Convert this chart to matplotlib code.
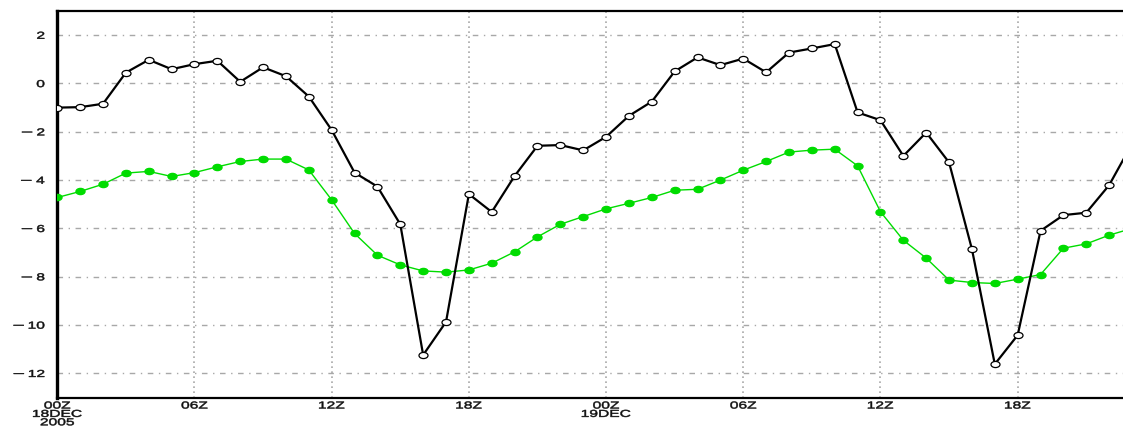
import numpy as np
import matplotlib as mpl
mpl.use("Agg")
import matplotlib.pyplot as plt
from matplotlib.path import Path
from matplotlib.markers import MarkerStyle
from matplotlib.transforms import Affine2D
from matplotlib.textpath import TextPath
from matplotlib.patches import PathPatch
from matplotlib.font_manager import FontProperties

# hourly values, 00Z 18DEC 2005 onwards
hours = list(range(48))

temp_black = [-1.0, -0.98, -0.84, 0.45, 0.98, 0.59, 0.80, 0.94, 0.07, 0.67,
              0.30, -0.54, -1.93, -3.69, -4.27, -5.83, -11.24, -9.87, -4.58, -5.32,
              -3.83, -2.58, -2.55, -2.77, -2.21, -1.34, -0.75, 0.50, 1.08, 0.76,
              1.03, 0.46, 1.28, 1.45, 1.63, -1.20, -1.52, -3.00, -2.03, -3.27,
              -6.86, -11.62, -10.42, -6.10, -5.45, -5.35, -4.21, -2.50]

temp_green = [-4.72, -4.47, -4.17, -3.71, -3.64, -3.85, -3.69, -3.45, -3.23, -3.13,
              -3.13, -3.58, -4.82, -6.21, -7.11, -7.51, -7.76, -7.81, -7.72, -7.44,
              -6.97, -6.35, -5.83, -5.51, -5.19, -4.96, -4.72, -4.42, -4.38, -4.00,
              -3.59, -3.23, -2.84, -2.76, -2.72, -3.41, -5.31, -6.49, -7.23, -8.14,
              -8.24, -8.28, -8.10, -7.91, -6.82, -6.64, -6.28, -6.00]

xtick_pos = [0, 6, 12, 18, 24, 30, 36, 42]
xtick_lbl = ["00Z\n18DEC\n2005", "06Z", "12Z", "18Z", "00Z\n19DEC", "06Z", "12Z", "18Z"]
ytick_pos = [2, 0, -2, -4, -6, -8, -10, -12]
ytick_lbl = ["2", "0", "\u22122", "\u22124", "\u22126", "\u22128", "\u221210", "\u221212"]

# flattened circle marker
ell = Affine2D().scale(1.0, 0.68).transform_path(Path.unit_circle())
ell_marker = MarkerStyle(ell)

# wide plotter-style lettering
fp = FontProperties(family="Liberation Sans")
CAP = 7.2
SIZE = CAP / 0.716
SX = 1.55

fig = plt.figure(figsize=(11.23, 4.27), dpi=100)
ax = fig.add_axes([57.3 / 1123, (427 - 398.5) / 427,
                   (1132 - 57.3) / 1123, (398.5 - 12) / 427])

ax.set_xlim(0, 47)
ax.set_ylim(-13, 3)


def put_label(s, x, y, ha, va, sx=SX):
    # x, y in pixels; text drawn as a path stretched horizontally
    tp = TextPath((0, 0), s, size=SIZE, prop=fp)
    bb = tp.get_extents()
    if ha == "center":
        dx = -(bb.x0 + bb.x1) / 2 * sx
    else:
        dx = -bb.x1 * sx
    dy = -CAP if va == "top" else -CAP / 2
    tr = Affine2D().scale(sx, 1).translate(x + dx, y + dy)
    # no snapping, or the thin minus bar collapses to nothing
    fig.add_artist(PathPatch(tp, transform=tr, fc="#111111", ec="#111111",
                             lw=0.35, snap=False))
    return x + dx + bb.x0 * sx


# grid
for y in ytick_pos:
    ax.axhline(y, color="#a8a8a8", lw=1.0, ls=(0, (4, 4, 1, 4)), zorder=1)
for x in xtick_pos[1:]:
    ax.axvline(x, color="#a8a8a8", lw=1.2, ls=(0, (1, 2)), zorder=1)

ax.plot(hours, temp_green, color="#00dc00", lw=1.0, marker=ell_marker,
        ms=6.5, mfc="#00dc00", mec="#00dc00", zorder=3)
ax.plot(hours, temp_black, color="black", lw=1.6, marker=ell_marker,
        ms=6.5, mfc="white", mec="black", mew=0.9, zorder=4)

ax.set_xticks(xtick_pos)
ax.set_xticklabels([])
ax.set_yticks(ytick_pos)
ax.set_yticklabels([])
ax.tick_params(axis="both", length=0)

for xt, lbl in zip(xtick_pos, xtick_lbl):
    px, py = ax.transData.transform((xt, -13))
    for i, line in enumerate(lbl.split("\n")):
        put_label(line, px, py - 3.8 - i * 8.4, "center", "top")

# y labels: long minus sign set apart from the digits
for yt, lbl in zip(ytick_pos, ytick_lbl):
    px, py = ax.transData.transform((0, yt))
    digits = lbl.lstrip("\u2212")
    left = put_label(digits, px - 13, py, "right", "center")
    if lbl.startswith("\u2212"):
        put_label("\u2212", left - 5, py, "right", "center", sx=2.1)

ax.spines["left"].set_linewidth(2.4)
ax.spines["top"].set_linewidth(1.6)
ax.spines["bottom"].set_linewidth(1.6)
ax.spines["right"].set_visible(False)

fig.savefig("out.png", dpi=100)
